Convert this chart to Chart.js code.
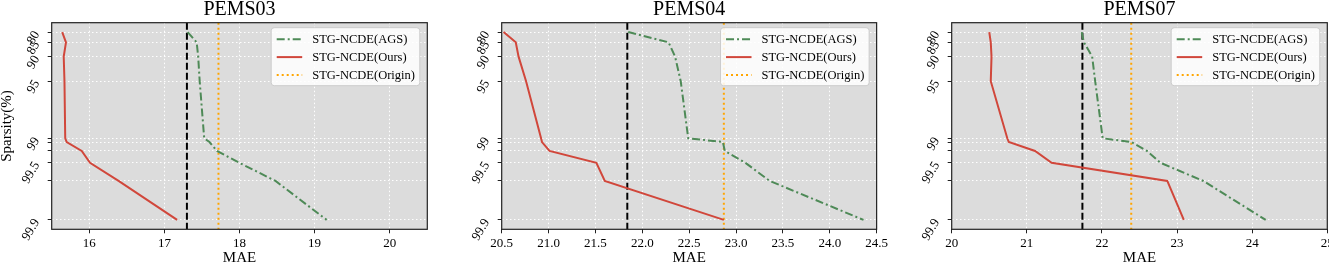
<!DOCTYPE html>
<html>
<head>
<meta charset="utf-8">
<script src="https://cdn.jsdelivr.net/npm/chart.js@4.4.0/dist/chart.umd.min.js"></script>
<style>
  html, body { margin: 0; padding: 0; background: #fff; overflow: hidden; }
  .panel { position: absolute; top: 0; width: 440px; height: 267px; }
</style>
</head>
<body>
<div class="panel" style="left:0px"><canvas id="c0"></canvas></div>
<div class="panel" style="left:450px"><canvas id="c1"></canvas></div>
<div class="panel" style="left:900px"><canvas id="c2"></canvas></div>
<script>
// sparsity levels (%) shared by every curve, and which of them get a label
const sparsity = [80, 85, 90, 95, 99, 99.1, 99.3, 99.5, 99.7, 99.9];
const sparsityLabels = ['80', '85', '90', '95', '99', '', '', '99.5', '', '99.9'];

const titles = ['PEMS03', 'PEMS04', 'PEMS07'];

// MAE at each sparsity level
const ags03 = [17.31, 17.43, 17.45, 17.47, 17.53, 17.60, 17.70, 18.00, 18.48, 19.16];
const ours03 = [15.64, 15.69, 15.66, 15.67, 15.68, 15.70, 15.90, 16.01, 16.39, 17.17];
const ags04 = [21.85, 22.28, 22.35, 22.41, 22.49, 22.86, 22.88, 23.10, 23.36, 24.36];
const ours04 = [20.52, 20.65, 20.68, 20.76, 20.92, 20.93, 21.01, 21.51, 21.60, 22.87];
const ags07 = [21.73, 21.76, 21.87, 21.91, 22.01, 22.39, 22.60, 22.78, 23.35, 24.18];
const ours07 = [20.50, 20.52, 20.53, 20.52, 20.74, 20.76, 21.11, 21.33, 22.87, 23.09];

// vertical reference lines (MAE)
const originMAE = [17.72, 22.87, 22.39];
const dashedMAE = [17.30, 21.84, 21.74];

// x axes
const xRange = [[15.5, 20.5], [20.5, 24.5], [20, 25]];
const xTicks03 = [16, 17, 18, 19, 20];
const xTicks04 = [20.5, 21.0, 21.5, 22.0, 22.5, 23.0, 23.5, 24.0, 24.5];
const xTicks07 = [20, 21, 22, 23, 24, 25];
const xLabels03 = ['16', '17', '18', '19', '20'];
const xLabels04 = ['20.5', '21.0', '21.5', '22.0', '22.5', '23.0', '23.5', '24.0', '24.5'];
const xLabels07 = ['20', '21', '22', '23', '24', '25'];

const ags = [ags03, ags04, ags07];
const ours = [ours03, ours04, ours07];
const xTicks = [xTicks03, xTicks04, xTicks07];
const xLabels = [xLabels03, xLabels04, xLabels07];

const serif = '"Liberation Serif", "DejaVu Serif", serif';

// y is plotted on a log scale of (100 - sparsity), with 5% margins like matplotlib
const logLo = Math.log10(100 - sparsity[sparsity.length - 1]);
const logHi = Math.log10(100 - sparsity[0]);
const yMin = Math.pow(10, logLo - 0.05 * (logHi - logLo));
const yMax = Math.pow(10, logHi + 0.05 * (logHi - logLo));

function curve(values) {
    return values.map((v, k) => ({ x: v, y: 100 - sparsity[k] }));
}

function vline(x) {
    return [{ x: x, y: yMax }, { x: x, y: yMin }];
}

const framePlugin = {
    id: 'frame',
    beforeDraw(chart) {
        const { ctx, chartArea: a } = chart;
        ctx.save();
        ctx.fillStyle = '#dcdcdc';
        ctx.fillRect(a.left, a.top, a.right - a.left, a.bottom - a.top);
        ctx.restore();
    },
    afterDatasetsDraw(chart) {
        const { ctx, chartArea: a } = chart;
        ctx.save();
        ctx.strokeStyle = '#222';
        ctx.lineWidth = 1.2;
        ctx.setLineDash([]);
        ctx.strokeRect(a.left, a.top, a.right - a.left, a.bottom - a.top);

        // legend box, upper right
        const items = chart.data.datasets.filter(d => d.label);
        const w = 148.6, h = 58;
        const x0 = a.right - 7.5 - w, y0 = a.top + 5;
        ctx.beginPath();
        ctx.roundRect(x0, y0, w, h, 3);
        ctx.fillStyle = 'rgba(255,255,255,0.85)';
        ctx.fill();
        ctx.strokeStyle = '#cccccc';
        ctx.lineWidth = 1;
        ctx.stroke();
        items.forEach((d, i) => {
            const y = y0 + 11.6 + i * 17.8;
            ctx.strokeStyle = d.borderColor;
            ctx.lineWidth = d.borderWidth;
            ctx.setLineDash(d.borderDash || []);
            ctx.beginPath();
            ctx.moveTo(x0 + 5.5, y);
            ctx.lineTo(x0 + 31, y);
            ctx.stroke();
            ctx.setLineDash([]);
            ctx.fillStyle = '#000';
            ctx.font = '12.5px ' + serif;
            ctx.textBaseline = 'middle';
            ctx.fillText(d.label, x0 + 41, y + 0.5);
        });
        ctx.restore();
    }
};

function makeChart(i) {
    return new Chart(document.getElementById('c' + i), {
        type: 'line',
        data: {
            datasets: [{
                label: 'STG-NCDE(AGS)',
                data: curve(ags[i]),
                borderColor: '#4e8a57',
                borderWidth: 2,
                borderDash: [8, 3, 2, 3]
            }, {
                label: 'STG-NCDE(Ours)',
                data: curve(ours[i]),
                borderColor: '#d1473b',
                borderWidth: 2
            }, {
                label: 'STG-NCDE(Origin)',
                data: vline(originMAE[i]),
                borderColor: '#ffa500',
                borderWidth: 2,
                borderDash: [2, 3]
            }, {
                data: vline(dashedMAE[i]),
                borderColor: '#000000',
                borderWidth: 2,
                borderDash: [7, 3]
            }]
        },
        options: {
            animation: false,
            responsive: true,
            maintainAspectRatio: false,
            elements: {
                point: { radius: 0, hoverRadius: 0 },
                line: { tension: 0, fill: false }
            },
            layout: {
                padding: { left: 0, right: 12.7, top: 0, bottom: 0 }
            },
            plugins: {
                legend: { display: false },
                tooltip: { enabled: false },
                title: {
                    display: true,
                    text: titles[i],
                    fullSize: false,
                    color: '#000',
                    font: { family: serif, size: 20, weight: 'normal', lineHeight: 1 },
                    padding: { top: 0, bottom: 2.7 }
                }
            },
            scales: {
                x: {
                    type: 'linear',
                    min: xRange[i][0],
                    max: xRange[i][1],
                    afterBuildTicks: s => { s.ticks = xTicks[i].map(v => ({ value: v })); },
                    afterFit: s => { s.height = 37.7; },
                    ticks: {
                        autoSkip: false,
                        maxRotation: 0,
                        padding: 2,
                        color: '#000',
                        font: { family: serif, size: 13 },
                        callback: (v, k) => xLabels[i][k]
                    },
                    grid: { color: '#ffffff', lineWidth: 1, tickColor: '#222', tickLength: 4, tickBorderDash: [] },
                    border: { display: false, dash: [1.5, 2.5] },
                    title: {
                        display: true,
                        text: 'MAE',
                        color: '#000',
                        font: { family: serif, size: 15, lineHeight: 1.16 },
                        padding: 0
                    }
                },
                y: {
                    type: 'logarithmic',
                    min: yMin,
                    max: yMax,
                    afterBuildTicks: s => { s.ticks = sparsity.map(v => ({ value: 100 - v })); },
                    afterFit: s => { s.width = 51.7; },
                    ticks: {
                        autoSkip: false,
                        minRotation: 60,
                        maxRotation: 60,
                        padding: 11,
                        color: '#000',
                        font: { family: serif, size: 13 },
                        callback: (v, k) => sparsityLabels[k]
                    },
                    grid: { color: '#ffffff', lineWidth: 1, tickColor: '#222', tickLength: 4, tickBorderDash: [] },
                    border: { display: false, dash: [1.5, 2.5] },
                    title: {
                        display: i === 0,
                        text: 'Sparsity(%)',
                        color: '#000',
                        font: { family: serif, size: 15, lineHeight: 1 },
                        padding: 0
                    }
                }
            }
        },
        plugins: [framePlugin]
    });
}

for (let i = 0; i < 3; i++) makeChart(i);
</script>
</body>
</html>
